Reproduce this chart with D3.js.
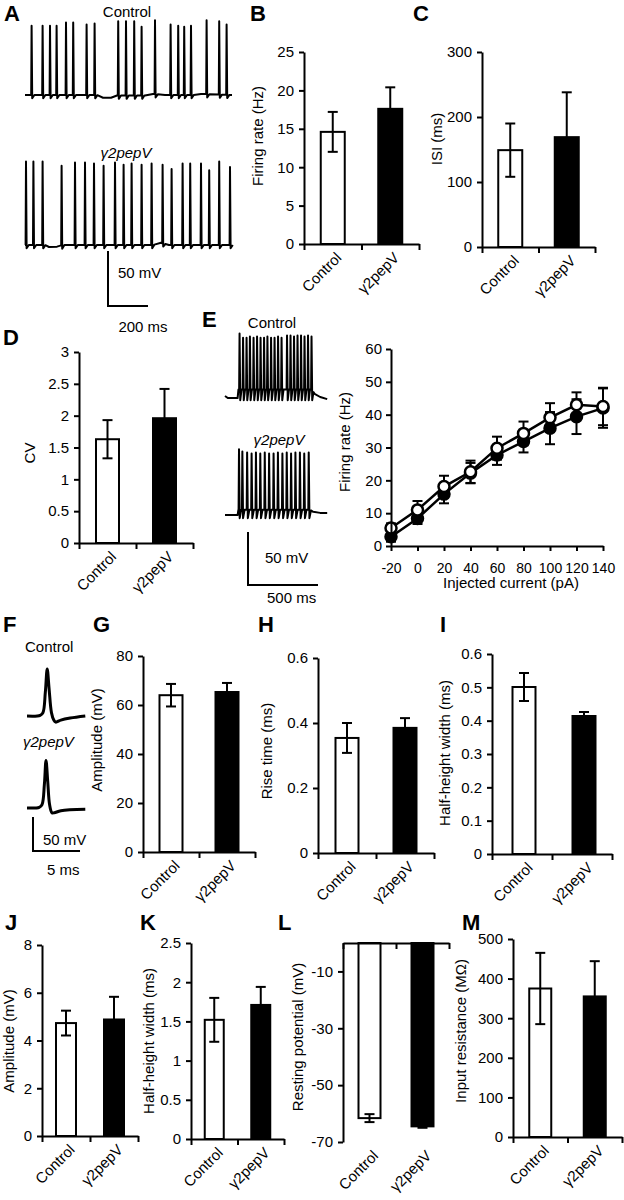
<!DOCTYPE html>
<html><head><meta charset="utf-8">
<script src="https://cdn.jsdelivr.net/npm/d3@7"></script>
<style>
body{margin:0;background:#fff}
svg text{font-family:"Liberation Sans",Arial,Helvetica,sans-serif;fill:#000}
</style></head>
<body><svg id="c" width="624" height="1200"></svg>
<script>
// ---------------- data ----------------
const groups = ["Control", "γ2pepV"];
const firingRateMean = [14.6, 17.6], firingRateSem = [2.6, 2.8];
const isiMean = [149, 169], isiSem = [41, 69];
const cvMean = [1.63, 1.96], cvSem = [0.30, 0.46];
const apAmpMean = [64.0, 65.3], apAmpSem = [4.6, 3.7];
const riseMean = [0.354, 0.385], riseSem = [0.046, 0.030];
const apHhwMean = [0.501, 0.414], apHhwSem = [0.042, 0.012];
const epspAmpMean = [4.73, 4.88], epspAmpSem = [0.52, 0.95];
const epspHhwMean = [1.52, 1.71], epspHhwSem = [0.28, 0.23];
const restMean = [-61.6, -64.5], restSem = [1.4, 0.5];
const rinMean = [375, 355], rinSem = [90, 89];

const currents = [-20, 0, 20, 40, 60, 80, 100, 120, 140];
const fiControl = [5.5, 11.0, 18.1, 22.6, 29.8, 34.3, 39.1, 43.0, 42.5];
const fiControlSem = [1.4, 2.7, 3.3, 3.4, 3.5, 3.6, 4.4, 3.8, 5.7];
const fiPep = [2.8, 8.4, 15.8, 22.2, 27.7, 31.8, 35.9, 39.4, 42.0];
const fiPepSem = [1.5, 1.7, 2.8, 3.1, 3.0, 3.3, 4.9, 5.3, 6.0];

const ticksB = [0, 5, 10, 15, 20, 25];
const ticksC = [0, 100, 200, 300];
const ticksD = [0, 0.5, 1, 1.5, 2, 2.5, 3];
const ticksEy = [0, 10, 20, 30, 40, 50, 60];
const ticksG = [0, 20, 40, 60, 80];
const ticksH = [0, 0.2, 0.4, 0.6];
const ticksI = [0, 0.1, 0.2, 0.3, 0.4, 0.5, 0.6];
const ticksJ = [0, 2, 4, 6, 8];
const ticksK = [0, 0.5, 1, 1.5, 2, 2.5];
const ticksL = [-10, -30, -50, -70];
const ticksM = [0, 100, 200, 300, 400, 500];

// spontaneous firing traces (ms, mV)
const spontCtrlSpikes = [33, 88, 125, 158, 205, 241, 308, 348, 466, 505, 546, 583, 650, 728, 766, 796, 830, 908, 971, 1008];
const spontCtrlPeaks = [3, 3, 3, 3, 6, 6, 4, 5, 7, 7, 7, 2, 8, 4, 3, 2, 3, 8, 7, 4];
const spontCtrlBase = [[0, -60], [360, -60], [390, -62.5], [430, -62.5], [460, -60.5], [600, -60.5], [640, -59], [700, -60], [840, -60], [880, -59], [1035, -60]];
const spontPepSpikes = [5, 42, 88, 183, 250, 300, 345, 393, 450, 493, 533, 583, 633, 688, 733, 788, 826, 880, 921, 971, 1025];
const spontPepPeaks = [16, 16, 16, 12, 15, 15, 14, 12, 15, 13, 14, 13, 14, 13, 9, 14, 14, 14, 8, 16, 11];
const spontPepBase = [[0, -60], [100, -60], [120, -61.8], [160, -61.5], [190, -60], [640, -60], [680, -58], [720, -60], [1035, -60]];

// evoked firing traces (ms, mV)
const evCtrlSpikes = [104, 129, 154, 178, 204, 229, 254, 279, 303, 329, 354, 379, 404, 443, 468, 493, 518, 543, 568, 593, 618];
const evCtrlPeaks = [-10, -14, -14, -13, -14, -13, -14, -14, -13, -14, -14, -13, -14, -12, -12, -13, -12, -12, -13, -12, -13];
const evCtrlBase = [[0, -69], [20, -71], [90, -71], [96, -63], [620, -63], [640, -67], [680, -70], [730, -72]];
const evPepSpikes = [100, 124, 158, 190, 221, 252, 284, 315, 347, 378, 410, 441, 472, 503, 535, 566, 598];
const evPepPeaks = [-8, -10, -11, -12, -11, -12, -11, -12, -12, -11, -12, -11, -12, -11, -11, -12, -11];
const evPepBase = [[0, -70], [90, -70], [96, -65], [606, -65], [630, -67], [680, -68], [730, -68]];

// single action potentials (ms, mV)
const apCtrl = [[0, -60], [1.4, -59], [1.7, -55], [1.95, -25], [2.15, 9], [2.35, -20], [2.6, -55], [2.85, -66], [3.05, -69], [3.6, -66], [4.6, -63], [6.2, -60]];
const apPep = [[0, -60], [1.3, -59], [1.6, -55], [1.85, -25], [2.02, 10], [2.2, -20], [2.4, -55], [2.65, -67], [2.9, -67], [3.6, -64], [6.2, -62]];

// ---------------- drawing ----------------
const svg = d3.select("#c");

function txt(x, y, s, o = {}) {
  return svg.append("text").attr("x", x).attr("y", y).text(s)
    .attr("font-size", o.size || 15)
    .attr("text-anchor", o.anchor || "start")
    .attr("font-weight", o.bold ? "bold" : "normal")
    .attr("font-style", o.italic ? "italic" : "normal");
}
function vlabel(cx, cy, s) {
  svg.append("text").attr("transform", `translate(${cx},${cy}) rotate(-90)`)
    .attr("text-anchor", "middle").attr("dy", "0.35em").attr("font-size", 15).text(s);
}
function styleAxis(g, fs) {
  g.selectAll("path.domain").attr("stroke", "#000").attr("stroke-width", 2);
  g.selectAll(".tick line").attr("stroke", "#000").attr("stroke-width", 2);
  g.selectAll(".tick text").attr("font-size", fs || 15).attr("fill", "#000")
    .attr("font-family", '"Liberation Sans",Arial,sans-serif');
}

// panel letters
[["A", 4, 21], ["B", 250, 21], ["C", 413, 21], ["D", 3, 345], ["E", 202, 327], ["F", 3, 632], ["G", 93, 632],
 ["H", 258, 632], ["I", 440, 632], ["J", 5, 930], ["K", 140, 930], ["L", 278, 930], ["M", 462, 930]]
  .forEach(([s, x, y]) => txt(x, y, s, { size: 22, bold: true }));

// bar panels
function barPanel(p) {
  const y = d3.scaleLinear().domain(p.domain).range([p.yBottom, p.yTop]);
  const xb = d3.scaleLinear().domain([0, 2]).range([p.x0, p.x1]);
  const axisY = p.topAxis ? p.yTop : p.yBottom;
  const zero = y(0);
  const g = svg.append("g");
  p.mean.forEach((m, i) => {
    const cx = xb(i + 0.5) + (p.shift || 0);
    g.append("rect").attr("x", cx - p.barW / 2).attr("width", p.barW)
      .attr("y", Math.min(zero, y(m))).attr("height", Math.abs(y(m) - zero))
      .attr("fill", i === 0 ? "#fff" : "#000").attr("stroke", "#000").attr("stroke-width", 2);
    const e1 = y(m - p.sem[i]), e2 = y(m + p.sem[i]);
    g.append("line").attr("x1", cx).attr("x2", cx).attr("y1", e1).attr("y2", e2).attr("stroke", "#000").attr("stroke-width", 2);
    [e1, e2].forEach(v => g.append("line").attr("x1", cx - 5).attr("x2", cx + 5).attr("y1", v).attr("y2", v)
      .attr("stroke", "#000").attr("stroke-width", 2));
    svg.append("text").attr("transform", `translate(${cx + 6},${p.yBottom + 11}) rotate(-45)`)
      .attr("text-anchor", "end").attr("dy", "0.35em").attr("font-size", 15).text(groups[i]);
  });
  const ya = svg.append("g").attr("transform", `translate(${p.x0},0)`)
    .call(d3.axisLeft(y).tickValues(p.ticks).tickSize(5).tickSizeOuter(0).tickPadding(5).tickFormat(d => String(d)));
  styleAxis(ya);
  const xa = svg.append("g").attr("transform", `translate(0,${axisY})`)
    .call(d3.axisBottom(xb).tickValues([0, 1, 2]).tickSize(6).tickSizeOuter(0).tickFormat(""));
  styleAxis(xa);
  vlabel(p.lx, p.ly, p.label);
}

barPanel({ mean: firingRateMean, sem: firingRateSem, domain: [0, 25], ticks: ticksB, x0: 304, x1: 419, yTop: 52, yBottom: 244, barW: 24, label: "Firing rate (Hz)", lx: 258, ly: 136 });
barPanel({ mean: isiMean, sem: isiSem, domain: [0, 300], ticks: ticksC, x0: 482, x1: 595, yTop: 52, yBottom: 247, barW: 24, label: "ISI (ms)", lx: 437, ly: 139 });
barPanel({ mean: cvMean, sem: cvSem, domain: [0, 3], ticks: ticksD, x0: 79, x1: 193, yTop: 352, yBottom: 543, barW: 23, label: "CV", lx: 30, ly: 453 });
barPanel({ mean: apAmpMean, sem: apAmpSem, domain: [0, 80], ticks: ticksG, x0: 143, x1: 255, yTop: 656, yBottom: 852, barW: 23, label: "Amplitude (mV)", lx: 97, ly: 740 });
barPanel({ mean: riseMean, sem: riseSem, domain: [0, 0.6], ticks: ticksH, x0: 318, x1: 434, yTop: 658, yBottom: 853, barW: 23, label: "Rise time (ms)", lx: 267, ly: 751 });
barPanel({ mean: apHhwMean, sem: apHhwSem, domain: [0, 0.6], ticks: ticksI, x0: 492, x1: 612, yTop: 654, yBottom: 854, barW: 23, shift: 2, label: "Half-height width (ms)", lx: 445, ly: 753 });
barPanel({ mean: epspAmpMean, sem: epspAmpSem, domain: [0, 8], ticks: ticksJ, x0: 42, x1: 138, yTop: 945, yBottom: 1136, barW: 20, label: "Amplitude (mV)", lx: 9, ly: 1041 });
barPanel({ mean: epspHhwMean, sem: epspHhwSem, domain: [0, 2.5], ticks: ticksK, x0: 191, x1: 284, yTop: 943, yBottom: 1139, barW: 19, label: "Half-height width (ms)", lx: 149, ly: 1041 });
barPanel({ mean: restMean, sem: restSem, domain: [-70, 0], ticks: ticksL, x0: 343, x1: 449, yTop: 943, yBottom: 1142, barW: 22, topAxis: true, label: "Resting potential (mV)", lx: 298, ly: 1037 });
barPanel({ mean: rinMean, sem: rinSem, domain: [0, 500], ticks: ticksM, x0: 513, x1: 622, yTop: 939, yBottom: 1137, barW: 22, label: "Input resistance (MΩ)", lx: 461, ly: 1031 });

function spikeTrace(xS, yS, baseKnots, spikes, peaks, o) {
  const baseAt = d3.scaleLinear().domain(baseKnots.map(d => d[0])).range(baseKnots.map(d => d[1])).clamp(true);
  const pts = [];
  baseKnots.forEach(([t, v]) => {
    if (!spikes.some(s => t >= s - o.pre && t <= s + o.post)) pts.push([t, v]);
  });
  spikes.forEach((t, i) => {
    const b = baseAt(t);
    pts.push([t - o.pre, b]);
    pts.push([t, peaks[i]]);
    pts.push([t + o.fall, o.trough != null ? o.trough : b - o.ahp]);
    pts.push([t + o.post, baseAt(t + o.post)]);
  });
  pts.sort((a, b) => a[0] - b[0]);
  svg.append("path").attr("d", d3.line().x(d => xS(d[0])).y(d => yS(d[1]))(pts))
    .attr("fill", "none").attr("stroke", "#000").attr("stroke-width", o.sw || 1.8).attr("stroke-linejoin", "round");
}

// Panel A
const xA = d3.scaleLinear().domain([0, 1035]).range([25, 232]);
const yACtrl = d3.scaleLinear().domain([-60, 0]).range([95, 29]);
const yAPep = d3.scaleLinear().domain([-60, 0]).range([245, 179]);
spikeTrace(xA, yACtrl, spontCtrlBase, spontCtrlSpikes, spontCtrlPeaks, { pre: 2, fall: 3, post: 14, ahp: 3, sw: 2 });
spikeTrace(xA, yAPep, spontPepBase, spontPepSpikes, spontPepPeaks, { pre: 2, fall: 3, post: 14, ahp: 3, sw: 2 });
txt(127, 17, "Control", { anchor: "middle" });
txt(126, 158, "γ2pepV", { anchor: "middle", italic: true });
{
  const bx = 108, by = 306;
  const h = yACtrl(-60) - yACtrl(-10), w = xA(200) - xA(0);
  svg.append("path").attr("d", `M${bx},${by - h}V${by}H${bx + w}`).attr("fill", "none").attr("stroke", "#000").attr("stroke-width", 2);
  txt(118, 278, "50 mV");
  txt(143, 332, "200 ms", { anchor: "middle" });
}

// Panel E traces
const xE = d3.scaleLinear().domain([0, 730]).range([225, 327.2]);
const yECtrl = d3.scaleLinear().domain([-70, 0]).range([397, 397 - 74.2]);
const yEPep = d3.scaleLinear().domain([-70, 0]).range([515, 515 - 74.2]);
spikeTrace(xE, yECtrl, evCtrlBase, evCtrlSpikes, evCtrlPeaks, { pre: 3, fall: 5, post: 14, trough: -73, sw: 2 });
spikeTrace(xE, yEPep, evPepBase, evPepSpikes, evPepPeaks, { pre: 3, fall: 5, post: 16, trough: -73, sw: 2 });
txt(272, 328, "Control", { anchor: "middle" });
txt(279, 445, "γ2pepV", { anchor: "middle", italic: true });
{
  const bx = 248, by = 585;
  const h = yECtrl(-70) - yECtrl(-20), w = xE(500) - xE(0);
  svg.append("path").attr("d", `M${bx},${by - h}V${by}H${bx + w}`).attr("fill", "none").attr("stroke", "#000").attr("stroke-width", 2);
  txt(265, 563, "50 mV");
  txt(267, 603, "500 ms");
}

// Panel E F-I plot
{
  const x = d3.scaleLinear().domain([-20, 140]).range([391, 603]);
  const y = d3.scaleLinear().domain([0, 60]).range([546, 349]);
  const series = [
    { m: fiPep, s: fiPepSem, fill: "#000" },
    { m: fiControl, s: fiControlSem, fill: "#fff" }
  ];
  const g = svg.append("g");
  series.forEach(sr => {
    currents.forEach((c, i) => {
      const cx = x(c), e1 = y(sr.m[i] - sr.s[i]), e2 = y(sr.m[i] + sr.s[i]);
      g.append("line").attr("x1", cx).attr("x2", cx).attr("y1", e1).attr("y2", e2).attr("stroke", "#000").attr("stroke-width", 2);
      [e1, e2].forEach(v => g.append("line").attr("x1", cx - 5).attr("x2", cx + 5).attr("y1", v).attr("y2", v).attr("stroke", "#000").attr("stroke-width", 2));
    });
  });
  series.forEach(sr => {
    g.append("path").attr("d", d3.line().x((d, i) => x(currents[i])).y(d => y(d))(sr.m))
      .attr("fill", "none").attr("stroke", "#000").attr("stroke-width", 2.5);
  });
  series.forEach(sr => {
    sr.m.forEach((v, i) => g.append("circle").attr("cx", x(currents[i])).attr("cy", y(v)).attr("r", 5.5)
      .attr("fill", sr.fill).attr("stroke", "#000").attr("stroke-width", 2.5));
  });
  const ya = svg.append("g").attr("transform", "translate(391,0)")
    .call(d3.axisLeft(y).tickValues(ticksEy).tickSize(5).tickSizeOuter(0).tickPadding(4).tickFormat(d => String(d)));
  styleAxis(ya);
  const xa = svg.append("g").attr("transform", "translate(0,546)")
    .call(d3.axisBottom(x).tickValues(currents).tickSize(5).tickSizeOuter(0).tickPadding(12).tickFormat(d => String(d)));
  styleAxis(xa, 14);
  txt(511, 588, "Injected current (pA)", { anchor: "middle" });
  vlabel(345, 442, "Firing rate (Hz)");
}

// Panel F
{
  const x = d3.scaleLinear().domain([0, 6.2]).range([27, 85.3]);
  const yC = d3.scaleLinear().domain([-60, 0]).range([716, 716 - 40.8]);
  const yP = d3.scaleLinear().domain([-60, 0]).range([808, 808 - 40.8]);
  const ln = ys => d3.line().x(d => x(d[0])).y(d => ys(d[1])).curve(d3.curveCatmullRom.alpha(0.5));
  svg.append("path").attr("d", ln(yC)(apCtrl)).attr("fill", "none").attr("stroke", "#000").attr("stroke-width", 3);
  svg.append("path").attr("d", ln(yP)(apPep)).attr("fill", "none").attr("stroke", "#000").attr("stroke-width", 3);
  txt(25, 652, "Control");
  txt(23, 747, "γ2pepV", { italic: true });
  const bx = 33, by = 851;
  const h = yC(-60) - yC(-10), w = x(5) - x(0);
  svg.append("path").attr("d", `M${bx},${by - h}V${by}H${bx + w}`).attr("fill", "none").attr("stroke", "#000").attr("stroke-width", 2);
  txt(43, 845, "50 mV");
  txt(47, 875, "5 ms");
}
</script></body></html>
